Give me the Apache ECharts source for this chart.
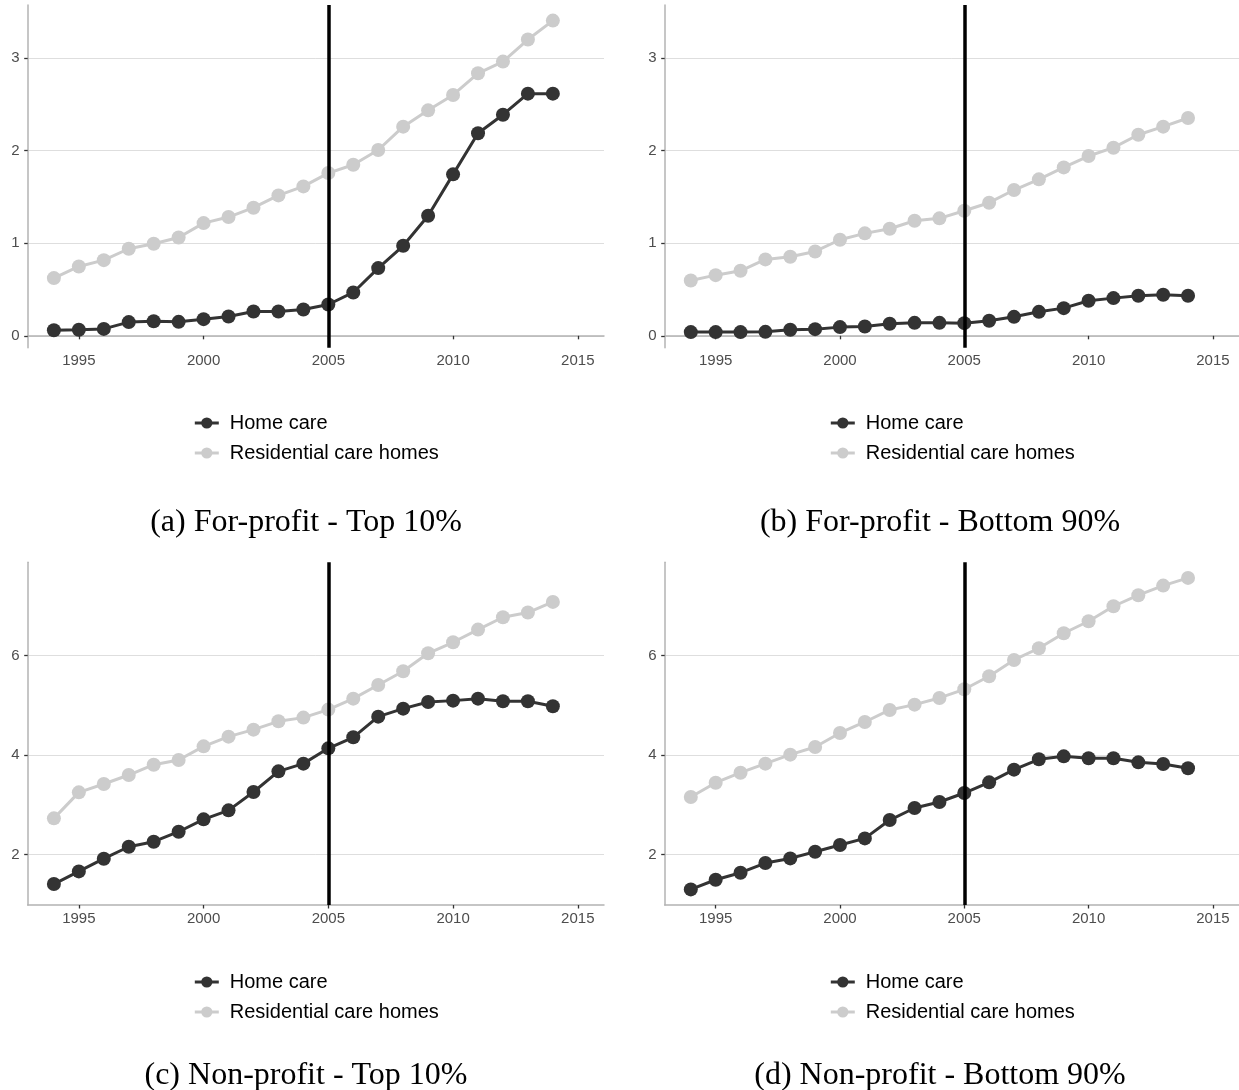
<!DOCTYPE html>
<html>
<head>
<meta charset="utf-8">
<script src="https://cdn.jsdelivr.net/npm/echarts@6/dist/echarts.min.js"></script>
<style>
  html, body { margin: 0; padding: 0; background: #ffffff; }
  #chart { width: 1239px; height: 1090px; }
</style>
</head>
<body>
<div id="chart"></div>
<script>
// Years covered by every panel
const years = [1994, 1995, 1996, 1997, 1998, 1999, 2000, 2001, 2002, 2003, 2004,
               2005, 2006, 2007, 2008, 2009, 2010, 2011, 2012, 2013, 2014];

// (a) For-profit - Top 10%
const homeForProfitTop = [0.06, 0.065, 0.075, 0.148, 0.158, 0.151, 0.18, 0.209, 0.263, 0.263, 0.284,
                          0.338, 0.468, 0.731, 0.972, 1.296, 1.743, 2.186, 2.387, 2.614, 2.614];
const resForProfitTop = [0.623, 0.749, 0.817, 0.94, 0.994, 1.062, 1.217, 1.282, 1.383, 1.516, 1.613,
                         1.757, 1.847, 2.006, 2.258, 2.434, 2.6, 2.834, 2.96, 3.198, 3.403];

// (b) For-profit - Bottom 90%
const homeForProfitBottom = [0.04, 0.04, 0.04, 0.043, 0.065, 0.072, 0.094, 0.101, 0.13, 0.14, 0.14,
                             0.137, 0.162, 0.205, 0.259, 0.299, 0.378, 0.407, 0.432, 0.443, 0.432];
const resForProfitBottom = [0.598, 0.655, 0.702, 0.825, 0.853, 0.911, 1.037, 1.106, 1.156, 1.242, 1.268,
                            1.35, 1.437, 1.574, 1.689, 1.818, 1.941, 2.031, 2.171, 2.258, 2.351];

// (c) Non-profit - Top 10%
const homeNonProfitTop = [1.403, 1.658, 1.913, 2.154, 2.255, 2.456, 2.705, 2.886, 3.255, 3.671, 3.826,
                          4.134, 4.356, 4.772, 4.933, 5.067, 5.094, 5.134, 5.081, 5.081, 4.98];
const resNonProfitTop = [2.725, 3.248, 3.416, 3.597, 3.805, 3.899, 4.174, 4.369, 4.51, 4.678, 4.752,
                         4.913, 5.134, 5.409, 5.685, 6.047, 6.268, 6.523, 6.772, 6.866, 7.081];

// (d) Non-profit - Bottom 90%
const homeNonProfitBottom = [1.295, 1.49, 1.631, 1.826, 1.919, 2.054, 2.188, 2.322, 2.691, 2.933, 3.054,
                             3.235, 3.45, 3.705, 3.913, 3.973, 3.933, 3.933, 3.852, 3.819, 3.732];
const resNonProfitBottom = [3.154, 3.443, 3.644, 3.826, 4.007, 4.161, 4.443, 4.664, 4.906, 5.013, 5.148,
                            5.322, 5.584, 5.913, 6.148, 6.45, 6.691, 6.993, 7.215, 7.409, 7.564];

// Tick values and reference year
const xTicks = [1995, 2000, 2005, 2010, 2015];
const yTicksForProfit = [0, 1, 2, 3];
const yTicksNonProfit = [2, 4, 6];
const policyYear = 2005;

const seriesNames = ['Home care', 'Residential care homes'];
const captions = ['(a) For-profit - Top 10%', '(b) For-profit - Bottom 90%',
                  '(c) Non-profit - Top 10%', '(d) Non-profit - Bottom 90%'];

const panels = [
  { home: homeForProfitTop, res: resForProfitTop, yTicks: yTicksForProfit },
  { home: homeForProfitBottom, res: resForProfitBottom, yTicks: yTicksForProfit },
  { home: homeNonProfitTop, res: resNonProfitTop, yTicks: yTicksNonProfit },
  { home: homeNonProfitBottom, res: resNonProfitBottom, yTicks: yTicksNonProfit }
];

// Panel layout (pixels)
const colLeft = [27.7, 664.7];
const rowTop = [5, 562.3];
const plotW = 576.3;
const plotH = 342.7;
const legendLeft = [188.3, 824.3];
const legendTop = [407.5, 966.5];
const captionX = [306, 940];
const captionY = [523, 1076];

// Shared y ranges for each row (5% padding around the row's data)
function rowRange(arrays) {
  let lo = Infinity, hi = -Infinity;
  arrays.forEach(a => a.forEach(v => { lo = Math.min(lo, v); hi = Math.max(hi, v); }));
  const pad = (hi - lo) * 0.05;
  return [lo - pad, hi + pad];
}
const rangeTop = rowRange([homeForProfitTop, resForProfitTop, homeForProfitBottom, resForProfitBottom]);
const rangeBottom = rowRange([homeNonProfitTop, resNonProfitTop, homeNonProfitBottom, resNonProfitBottom]);
// x range: 1994-2015 with 5% padding
const xMin = 1994 - 21 * 0.05;
const xMax = 2015 + 21 * 0.05;

const HOME_COLOR = '#333333';
const RES_COLOR = '#cccccc';
const tickFont = { fontFamily: 'Liberation Sans', fontSize: 15, color: '#4d4d4d' };

const grid = [], xAxis = [], yAxis = [], series = [], legend = [], graphic = [];

panels.forEach((p, i) => {
  const col = i % 2, row = Math.floor(i / 2);
  const yr = row === 0 ? rangeTop : rangeBottom;
  grid.push({ left: colLeft[col], top: rowTop[row], width: plotW, height: plotH });
  xAxis.push({
    type: 'value', gridIndex: i, min: xMin, max: xMax,
    axisLine: { show: true, lineStyle: { color: '#b3b3b3', width: 1.5 } },
    axisTick: { show: true, customValues: xTicks, length: 3.5, lineStyle: { color: '#333333', width: 1.3 } },
    axisLabel: { customValues: xTicks, margin: 6, ...tickFont, formatter: v => String(v) },
    splitLine: { show: false }
  });
  yAxis.push({
    type: 'value', gridIndex: i, min: yr[0], max: yr[1],
    axisLine: { show: true, lineStyle: { color: '#b3b3b3', width: 1.5 } },
    axisTick: { show: true, customValues: p.yTicks, length: 3.5, lineStyle: { color: '#333333', width: 1.3 } },
    axisLabel: { customValues: p.yTicks, margin: 8, ...tickFont, formatter: v => String(v) },
    splitLine: { show: true, lineStyle: { color: '#dedede', width: 1 } }
  });
  const lineDef = (name, values, color) => ({
    name, type: 'line', xAxisIndex: i, yAxisIndex: i,
    data: years.map((y, k) => [y, values[k]]),
    symbol: 'circle', symbolSize: 14,
    lineStyle: { color, width: 3 },
    itemStyle: { color },
    emphasis: { disabled: true },
    animation: false
  });
  series.push(lineDef(seriesNames[0], p.home, HOME_COLOR));
  series.push(lineDef(seriesNames[1], p.res, RES_COLOR));
  // vertical reference line at the policy year, drawn above the data
  series.push({
    type: 'line', xAxisIndex: i, yAxisIndex: i, data: [], z: 5,
    markLine: {
      silent: true, symbol: 'none', animation: false,
      label: { show: false },
      lineStyle: { color: '#000000', width: 3.5, type: 'solid' },
      data: [{ xAxis: policyYear }]
    }
  });
  legend.push({
    orient: 'vertical', left: legendLeft[col], top: legendTop[row],
    data: seriesNames, itemWidth: 24, itemHeight: 14, itemGap: 9,
    selectedMode: false,
    lineStyle: { width: 3 },
    textStyle: { fontFamily: 'Liberation Sans', fontSize: 20, color: '#000000',
                 lineHeight: 21, padding: [0, 0, 0, 6] }
  });
  graphic.push({
    type: 'text', x: captionX[col], y: captionY[row], silent: true,
    style: { text: captions[i], fontFamily: 'Liberation Serif', fontSize: 32,
             fill: '#000000', align: 'center', verticalAlign: 'middle' }
  });
});

const chart = echarts.init(document.getElementById('chart'), null, { renderer: 'canvas' });
chart.setOption({
  backgroundColor: '#ffffff',
  animation: false,
  grid, xAxis, yAxis, series, legend, graphic
});
</script>
</body>
</html>
